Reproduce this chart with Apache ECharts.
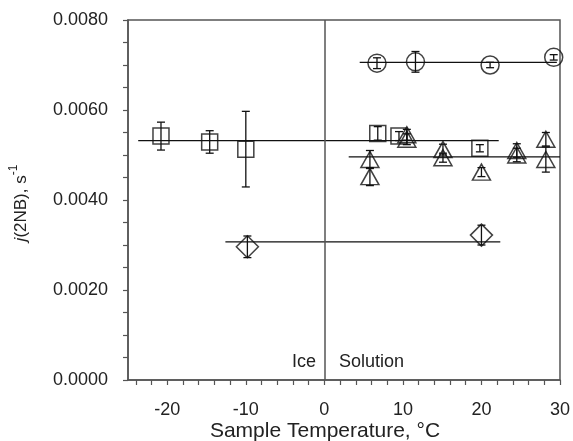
<!DOCTYPE html>
<html>
<head>
<meta charset="utf-8">
<script src="https://cdn.jsdelivr.net/npm/echarts@6/dist/echarts.min.js"></script>
<style>html,body{margin:0;padding:0;background:#fff}#c{width:573px;height:441px}</style>
</head>
<body>
<div id="c"></div>
<script>
// ---- data ----
var xTickValues = [-24,-22,-20,-18,-16,-14,-12,-10,-8,-6,-4,-2,0,2,4,6,8,10,12,14,16,18,20,22,24,26,28,30];
var xLabelValues = [-20,-10,0,10,20,30];
var yLabelValues = [0,0.002,0.004,0.006,0.008];

var squareT = [-20.8, -14.6, -10.0, 6.8, 9.5, 19.8];
var squareV = [0.00542, 0.00529, 0.00513, 0.00548, 0.00542, 0.00515];
var squareErr = [0.00031, 0.00025, 0.00084, 0.00015, 0.00010, 0.00008];

var circleT = [6.7, 11.6, 21.1, 29.2];
var circleV = [0.00704, 0.00707, 0.00700, 0.00717];
var circleErr = [0.00012, 0.00023, 0.00006, 0.00006];

var triangleT = [5.8, 5.8, 10.5, 10.5, 15.1, 15.1, 20.0, 24.5, 24.5, 28.2, 28.2];
var triangleV = [0.00490, 0.00452, 0.00545, 0.00535, 0.00512, 0.00494, 0.00462, 0.00510, 0.00500, 0.00535, 0.00490];
var triangleErr = [0.00020, 0.00020, 0.00012, 0.00012, 0.00012, 0.00010, 0.00010, 0.00015, 0.00015, 0.00015, 0.00028];

var diamondT = [-9.8, 20.0];
var diamondV = [0.00296, 0.00322];
var diamondErr = [0.00024, 0.00022];

// mean lines: [xStart, xEnd], value
var squareMeanX = [-23.7, 22.2], squareMean = 0.00532;
var triangleMeanX = [3.1, 30], triangleMean = 0.00496;
var circleMeanX = [4.5, 29.6], circleMean = 0.00706;
var diamondMeanX = [-12.6, 22.4], diamondMean = 0.00307;

// ---- build ----
function pts(t, v) { return t.map(function (x, i) { return [x, v[i]]; }); }
function errData(t, v, e) { return t.map(function (x, i) { return [x, v[i] - e[i], v[i] + e[i]]; }); }
function meanLine(xs, m) { return [[xs[0], m], [xs[1], m]]; }

var ink = '#111';
var axisCol = '#555';
var FF = 'Liberation Sans, Arial, sans-serif';

function errSeries(data) {
  return {
    type: 'custom', z: 3, silent: true,
    renderItem: function (params, api) {
      var x = api.value(0);
      var lo = api.coord([x, api.value(1)]);
      var hi = api.coord([x, api.value(2)]);
      var w = 4;
      var st = { stroke: ink, lineWidth: 1.3 };
      return { type: 'group', children: [
        { type: 'line', shape: { x1: lo[0], y1: lo[1], x2: hi[0], y2: hi[1] }, style: st },
        { type: 'line', shape: { x1: lo[0] - w, y1: lo[1], x2: lo[0] + w, y2: lo[1] }, style: st },
        { type: 'line', shape: { x1: hi[0] - w, y1: hi[1], x2: hi[0] + w, y2: hi[1] }, style: st }
      ]};
    },
    encode: { x: 0, y: [1, 2] },
    data: data
  };
}
function markSeries(data, symbol, size) {
  return {
    type: 'scatter', z: 4, symbol: symbol, symbolSize: size,
    itemStyle: { color: 'rgba(0,0,0,0)', borderColor: ink, borderWidth: 1.5 },
    data: data
  };
}
function lineSeries(data) {
  return { type: 'line', z: 2, symbol: 'none', silent: true,
    lineStyle: { color: ink, width: 1.3 }, data: data };
}

var chart = echarts.init(document.getElementById('c'), null, { renderer: 'canvas' });
chart.setOption({
  animation: false,
  backgroundColor: '#fff',
  textStyle: { fontFamily: FF },
  grid: { left: 128, right: 10, top: 20, bottom: 61, show: true, borderColor: axisCol, borderWidth: 1.5, backgroundColor: 'transparent' },
  xAxis: {
    type: 'value', min: -25, max: 30,
    axisLine: { show: true, onZero: false, lineStyle: { color: axisCol, width: 1.5 } },
    axisTick: { show: true, length: 5, inside: false, customValues: xTickValues, lineStyle: { color: axisCol, width: 1.2 } },
    axisLabel: { customValues: xLabelValues, margin: 21, fontSize: 18, color: '#222', fontFamily: FF },
    splitLine: { show: false }
  },
  yAxis: {
    type: 'value', min: 0, max: 0.008, interval: 0.0005,
    axisLine: { show: true, onZero: false, lineStyle: { color: axisCol, width: 1.5 } },
    axisTick: { show: true, length: 5, inside: false, lineStyle: { color: axisCol, width: 1.2 } },
    axisLabel: { customValues: yLabelValues, margin: 20, fontSize: 18, color: '#222', fontFamily: FF,
      formatter: function (v) { return v.toFixed(4); } },
    splitLine: { show: false }
  },
  graphic: [
    { type: 'text', x: 325, y: 431, style: { text: 'Sample Temperature, \u00B0C', fontSize: 21, fill: '#222', align: 'center', verticalAlign: 'middle', fontFamily: FF } },
    { type: 'text', x: 19, y: 203, rotation: Math.PI / 2,
      style: { text: '{i|j}{n|(2NB), s}{s|-1}', align: 'center', verticalAlign: 'middle', fill: '#222',
        rich: {
          i: { fontSize: 17, fontStyle: 'italic', fill: '#222', fontFamily: FF, lineHeight: 22, verticalAlign: 'bottom' },
          n: { fontSize: 17, fill: '#222', fontFamily: FF, lineHeight: 22, verticalAlign: 'bottom' },
          s: { fontSize: 12, fill: '#222', fontFamily: FF, lineHeight: 22, verticalAlign: 'top', padding: [0, 0, 8, 0] }
        } } },
    { type: 'text', x: 316, y: 362, style: { text: 'Ice', fontSize: 18, fill: '#222', align: 'right', verticalAlign: 'middle', fontFamily: FF } },
    { type: 'text', x: 339, y: 362, style: { text: 'Solution', fontSize: 18, fill: '#222', align: 'left', verticalAlign: 'middle', fontFamily: FF } }
  ],
  series: [
    { type: 'line', data: [], symbol: 'none', silent: true,
      markLine: { silent: true, symbol: 'none', label: { show: false }, lineStyle: { color: axisCol, width: 1.5, type: 'solid' }, data: [{ xAxis: 0 }] } },
    lineSeries(meanLine(squareMeanX, squareMean)),
    lineSeries(meanLine(triangleMeanX, triangleMean)),
    lineSeries(meanLine(circleMeanX, circleMean)),
    lineSeries(meanLine(diamondMeanX, diamondMean)),
    errSeries(errData(squareT, squareV, squareErr)),
    errSeries(errData(circleT, circleV, circleErr)),
    errSeries(errData(triangleT, triangleV, triangleErr)),
    errSeries(errData(diamondT, diamondV, diamondErr)),
    markSeries(pts(squareT, squareV), 'rect', 16),
    markSeries(pts(circleT, circleV), 'circle', 18),
    markSeries(pts(triangleT, triangleV), 'triangle', [18, 16]),
    markSeries(pts(diamondT, diamondV), 'diamond', [22, 22])
  ]
});
</script>
</body>
</html>
